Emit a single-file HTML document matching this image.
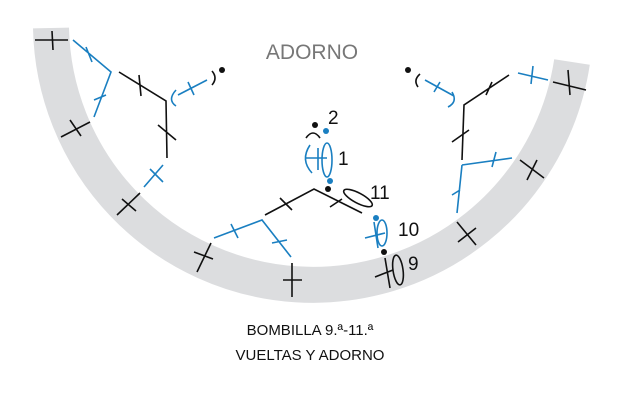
<!DOCTYPE html>
<html><head><meta charset="utf-8"><style>
html,body{margin:0;padding:0;background:#fff;}
svg{display:block;}
text{font-family:"Liberation Sans",sans-serif;}
</style></head><body>
<svg width="622" height="404" viewBox="0 0 622 404" xmlns="http://www.w3.org/2000/svg">
<path d="M51 28 A262 262 0 0 0 572 62" fill="none" stroke="#dcdddf" stroke-width="36"/>
<text x="312" y="59" font-size="21" fill="#777" text-anchor="middle">ADORNO</text>
<g stroke="#111" stroke-width="1.6" fill="none">
<path d="M35 40 L68 40 M52 31 L53 50"/>
<path d="M61 137 L90 122 M70 120 L81 136"/>
<path d="M117 215 L140 193 M122 199 L136 211"/>
<path d="M211 243 L197 272 M194 252 L213 259"/>
<path d="M292 263 L292 297 M283 280 L302 280"/>
<path d="M119 72 L166 101 L167 158 M139 75 L141 96 M158 125 L176 140"/>
<path d="M212 71 Q218 78 212 85"/>
<path d="M265 215 L314 189 L362 213 M280 198 L292 210 M330 207 L342 199"/>
<path d="M306 138 Q313 128 320 138"/>
<ellipse cx="358" cy="198" rx="16" ry="5" transform="rotate(28 358 198)"/>
<path d="M375 277 L393 270 M385 258 L390 288"/>
<ellipse cx="398" cy="270" rx="5" ry="15" transform="rotate(-8 398 270)"/>
<path d="M553 82 L586 90 M568 70 L570 95"/>
<path d="M520 160 L544 178 M537 160 L527 180"/>
<path d="M457 222 L476 245 M458 242 L476 228"/>
<path d="M509 75 L464 105 L462 160 M486 95 L492 82 M452 142 L469 130"/>
<path d="M420 74 Q413 80 418 87"/>
</g>
<g stroke="#1a7fc1" stroke-width="1.6" fill="none">
<path d="M73 40 L111 72 L94 117 M86 47 L92 62 M94 100 L106 95"/>
<path d="M144 187 L163 165 M150 169 L163 182"/>
<path d="M178 95 L207 80 M188 82 L194 95"/>
<path d="M176 90 Q167 100 176 106"/>
<path d="M214 238 L262 220 L291 257 M231 224 L238 238 M272 243 L287 240"/>
<ellipse cx="327" cy="160" rx="5" ry="17"/>
<path d="M306 158 L327 158 M318 148 L318 170"/>
<path d="M310 145 Q300 160 312 173"/>
<ellipse cx="382" cy="233" rx="5" ry="13"/>
<path d="M365 238 L385 233 M374 222 L378 248"/>
<path d="M518 73 L548 80 M533 66 L531 84"/>
<path d="M462 165 L512 158 M462 165 L457 213 M496 152 L492 167 M452 195 L460 190"/>
<path d="M425 80 L454 96 M434 92 L440 82"/>
<path d="M452 92 Q458 102 448 107"/>
</g>
<g fill="#111"><circle cx="222" cy="70" r="3"/><circle cx="315" cy="125" r="3"/><circle cx="328" cy="189" r="3"/><circle cx="384" cy="252" r="3"/><circle cx="408" cy="70" r="3"/></g>
<g fill="#1a7fc1"><circle cx="326" cy="131" r="3"/><circle cx="330" cy="181" r="3"/><circle cx="376" cy="218" r="3"/></g>
<g font-size="19" fill="#111"><text x="328" y="124">2</text><text x="338" y="165">1</text><text x="370" y="199">11</text><text x="398" y="236">10</text><text x="408" y="270">9</text></g>
<text x="310" y="335" font-size="15" fill="#111" text-anchor="middle">BOMBILLA 9.ª-11.ª</text>
<text x="310" y="360" font-size="15" fill="#111" text-anchor="middle">VUELTAS Y ADORNO</text>
</svg>
</body></html>
